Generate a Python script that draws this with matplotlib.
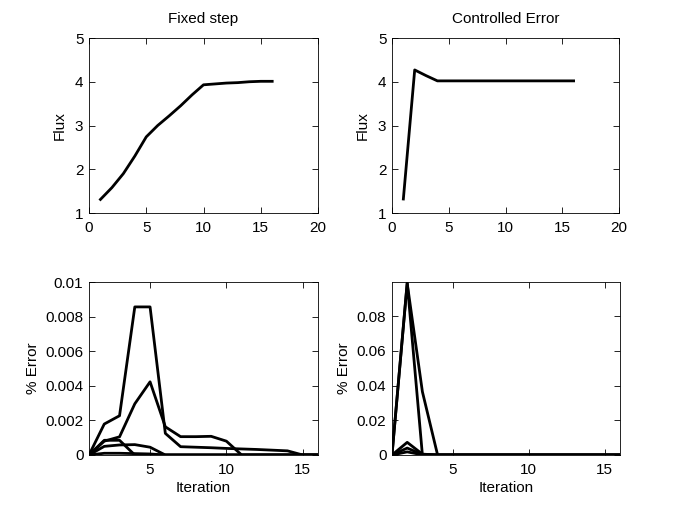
import matplotlib
matplotlib.use("Agg")
import matplotlib.pyplot as plt

plt.rcParams['font.family'] = ['Liberation Sans', 'DejaVu Sans']
plt.rcParams['font.size'] = 11

iters = list(range(1, 17))
flux_fixed = [1.31, 1.58, 1.90, 2.30, 2.74, 3.00, 3.22, 3.45, 3.70, 3.93,
              3.95, 3.97, 3.98, 4.00, 4.01, 4.01]
flux_ctrl = [1.32, 4.27, 4.14, 4.02, 4.02, 4.02, 4.02, 4.02, 4.02, 4.02,
             4.02, 4.02, 4.02, 4.02, 4.02, 4.02]

err_fixed = [
    [0, 0.00179, 0.00227, 0.00856, 0.00856, 0.00125, 0.00048, 0.00045, 0.00042,
     0.00038, 0.00035, 0.00032, 0.00028, 0.00024, 0.0, 0.0],
    [0, 0.00080, 0.00105, 0.00296, 0.00423, 0.00163, 0.00106, 0.00106, 0.00108,
     0.00080, 0.0, 0.0, 0.0, 0.0, 0.0, 0.0],
    [0, 0.00085, 0.00085, 0.0, 0.0, 0.0, 0.0, 0.0, 0.0, 0.0, 0.0, 0.0, 0.0, 0.0, 0.0, 0.0],
    [0, 0.00050, 0.00058, 0.00060, 0.00045, 0.0, 0.0, 0.0, 0.0, 0.0, 0.0, 0.0, 0.0, 0.0, 0.0, 0.0],
    [0, 0.00010, 0.00010, 0.00008, 0.00006, 0.0, 0.0, 0.0, 0.0, 0.0, 0.0, 0.0, 0.0, 0.0, 0.0, 0.0],
]
err_ctrl = [
    [0, 0.0995, 0.0, 0, 0, 0, 0, 0, 0, 0, 0, 0, 0, 0, 0, 0],
    [0, 0.0990, 0.0365, 0.0, 0, 0, 0, 0, 0, 0, 0, 0, 0, 0, 0, 0],
    [0, 0.0073, 0.0005, 0.0, 0, 0, 0, 0, 0, 0, 0, 0, 0, 0, 0, 0],
    [0, 0.0040, 0.0003, 0.0, 0, 0, 0, 0, 0, 0, 0, 0, 0, 0, 0, 0],
    [0, 0.0018, 0.0001, 0.0, 0, 0, 0, 0, 0, 0, 0, 0, 0, 0, 0, 0],
]

fig = plt.figure(figsize=(6.85, 5.14), dpi=100)
W, H = 685, 514

def add_ax(x0, x1, y0, y1):
    return fig.add_axes([x0 / W, 1 - y1 / H, (x1 - x0) / W, (y1 - y0) / H])

ax1 = add_ax(89, 318, 38, 213)
ax2 = add_ax(392, 619, 38, 213)
ax3 = add_ax(89, 318, 282, 455)
ax4 = add_ax(392, 620, 282, 455)

for ax in (ax1, ax2, ax3, ax4):
    ax.tick_params(direction='in', top=True, right=True, length=4, width=0.6, pad=4)
    ax.tick_params(axis='x', pad=6)
    for s in ax.spines.values():
        s.set_linewidth(0.6)

lw = 2.0
ax1.plot(iters, flux_fixed, color='black', lw=lw)
ax1.set_xlim(0, 20)
ax1.set_ylim(1, 5)
ax1.set_xticks([0, 5, 10, 15, 20])
ax1.set_yticks([1, 2, 3, 4, 5])
ax1.set_ylabel('Flux', labelpad=6)
ax1.set_title('Fixed step', fontsize=11, pad=11)

ax2.plot(iters, flux_ctrl, color='black', lw=lw)
ax2.set_xlim(0, 20)
ax2.set_ylim(1, 5)
ax2.set_xticks([0, 5, 10, 15, 20])
ax2.set_yticks([1, 2, 3, 4, 5])
ax2.set_ylabel('Flux', labelpad=6)
ax2.set_title('Controlled Error', fontsize=11, pad=11)

for e in err_fixed:
    ax3.plot(iters, e, color='black', lw=lw)
ax3.set_xlim(1, 16)
ax3.set_ylim(0, 0.01)
ax3.set_xticks([5, 10, 15])
ax3.set_yticks([0, 0.002, 0.004, 0.006, 0.008, 0.01])
ax3.set_yticklabels(['0', '0.002', '0.004', '0.006', '0.008', '0.01'])
ax3.set_ylabel('% Error')
ax3.set_xlabel('Iteration', labelpad=3)

for e in err_ctrl:
    ax4.plot(iters, e, color='black', lw=lw)
ax4.set_xlim(1, 16)
ax4.set_ylim(0, 0.0998)
ax4.set_xticks([5, 10, 15])
ax4.set_yticks([0, 0.02, 0.04, 0.06, 0.08])
ax4.set_yticklabels(['0', '0.02', '0.04', '0.06', '0.08'])
ax4.set_ylabel('% Error')
ax4.set_xlabel('Iteration', labelpad=3)

fig.savefig('out.png', dpi=100)
